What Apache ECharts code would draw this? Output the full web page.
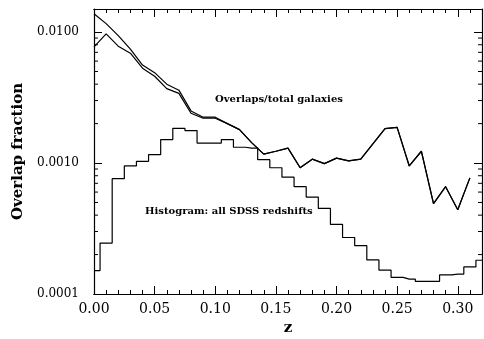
<!DOCTYPE html>
<html>
<head>
<meta charset="utf-8">
<script src="https://cdn.jsdelivr.net/npm/echarts@6/dist/echarts.min.js"></script>
<style>
  html, body { margin: 0; padding: 0; background: #fff; }
  #chart { width: 484px; height: 339px; }
</style>
</head>
<body>
<div id="chart"></div>
<script>
// overlap fraction, one point per 0.01 in z
const zLine = [0.00, 0.01, 0.02, 0.03, 0.04, 0.05, 0.06, 0.07, 0.08, 0.09, 0.10,
  0.11, 0.12, 0.13, 0.14, 0.15, 0.16, 0.17, 0.18, 0.19, 0.20, 0.21,
  0.22, 0.23, 0.24, 0.25, 0.26, 0.27, 0.28, 0.29, 0.30, 0.31]
const overlapUpper = [0.0138, 0.0116, 0.0094, 0.0074, 0.0056, 0.0049, 0.0040, 0.0036, 0.0025, 0.00224, 0.00224,
  0.0020, 0.0018, 0.00143, 0.00117, 0.00123, 0.00130, 0.00092, 0.00107, 0.00099, 0.00109, 0.00104,
  0.00107, 0.00140, 0.00183, 0.00187, 0.00095, 0.00123, 0.00049, 0.00066, 0.00044, 0.00077]
const overlapLower = [0.0077, 0.0097, 0.0078, 0.0069, 0.0053, 0.0046, 0.0037, 0.0034, 0.0024, 0.0022, 0.0022,
  0.0020, 0.0018, 0.00143, 0.00117, 0.00123, 0.00130, 0.00092, 0.00107, 0.00099, 0.00109, 0.00104,
  0.00107, 0.00140, 0.00183, 0.00187, 0.00095, 0.00123, 0.00049, 0.00066, 0.00044, 0.00077]

// histogram of all SDSS redshifts (scaled), bins centred on 0.00 .. 0.32
const zHist = [0.00, 0.01, 0.02, 0.03, 0.04, 0.05, 0.06, 0.07, 0.08, 0.09, 0.10,
  0.11, 0.12, 0.13, 0.14, 0.15, 0.16, 0.17, 0.18, 0.19, 0.20, 0.21,
  0.22, 0.23, 0.24, 0.25, 0.26, 0.27, 0.28, 0.29, 0.30, 0.31, 0.32]
const histFrac = [1.51e-4, 2.45e-4, 7.6e-4, 9.5e-4, 1.03e-3, 1.16e-3, 1.51e-3, 1.84e-3, 1.77e-3, 1.42e-3, 1.42e-3,
  1.51e-3, 1.32e-3, 1.30e-3, 1.06e-3, 9.2e-4, 7.8e-4, 6.6e-4, 5.5e-4, 4.5e-4, 3.4e-4, 2.7e-4,
  2.34e-4, 1.82e-4, 1.52e-4, 1.34e-4, 1.30e-4, 1.25e-4, 1.25e-4, 1.40e-4, 1.42e-4, 1.61e-4, 1.81e-4]

// minor ticks of the log axis (2..9 in each decade)
const yDecades = [0.0001, 0.001]
const minorYTicks = []
yDecades.forEach((d) => {
  for (let k = 2; k <= 9; k++) minorYTicks.push(k * d)
})

const serif = '"DejaVu Serif", "Liberation Serif", serif'
const black = '#000'

const chart = echarts.init(document.getElementById('chart'), null, { renderer: 'canvas' })

function xAxisDef(pos, interval, tickLen, labels) {
  return {
    type: 'value',
    position: pos,
    min: 0,
    max: 0.32,
    interval: interval,
    name: labels ? 'z' : '',
    nameLocation: 'middle',
    nameGap: 25,
    nameTextStyle: { fontFamily: serif, fontWeight: 'bold', fontSize: 15, color: black },
    axisLine: { show: true, onZero: false, lineStyle: { color: black, width: 1.2 } },
    axisTick: { show: true, inside: true, length: tickLen, lineStyle: { color: black, width: 1 } },
    axisLabel: {
      show: labels,
      margin: 8,
      showMaxLabel: false,
      fontFamily: serif,
      fontSize: 14,
      color: black,
      formatter: (v) => v.toFixed(2),
    },
    splitLine: { show: false },
  }
}

function yAxisDef(pos, labels) {
  return {
    type: 'log',
    logBase: 10,
    position: pos,
    min: 0.0001,
    max: 0.015,
    name: labels ? 'Overlap fraction' : '',
    nameLocation: 'middle',
    nameGap: 68,
    nameTextStyle: { fontFamily: serif, fontWeight: 'bold', fontSize: 15, color: black },
    axisLine: { show: true, onZero: false, lineStyle: { color: black, width: 1.2 } },
    axisTick: { show: true, inside: true, length: 8, lineStyle: { color: black, width: 1 } },
    axisLabel: {
      show: labels,
      margin: 15,
      showMaxLabel: false,
      fontFamily: serif,
      fontSize: 12,
      color: black,
      formatter: (v) => v.toFixed(4),
    },
    splitLine: { show: false },
  }
}

const option = {
  animation: false,
  backgroundColor: '#fff',
  grid: { left: 94, right: 2, top: 9, bottom: 45, containLabel: false, outerBoundsMode: 'none' },
  xAxis: [
    xAxisDef('bottom', 0.05, 8, true),
    xAxisDef('bottom', 0.01, 4, false),
    xAxisDef('top', 0.05, 8, false),
    xAxisDef('top', 0.01, 4, false),
  ],
  yAxis: [yAxisDef('left', true), yAxisDef('right', false)],
  graphic: [
    {
      type: 'text',
      left: 215,
      top: 94,
      style: { text: 'Overlaps/total galaxies', font: 'bold 10px ' + serif, fill: black },
    },
    {
      type: 'text',
      left: 145,
      top: 206,
      style: { text: 'Histogram: all SDSS redshifts', font: 'bold 10px ' + serif, fill: black },
    },
  ],
  series: [
    {
      type: 'line',
      data: zHist.map((z, i) => [z, histFrac[i]]),
      step: 'middle',
      showSymbol: false,
      lineStyle: { color: black, width: 1.2 },
    },
    {
      type: 'line',
      data: zLine.map((z, i) => [z, overlapUpper[i]]),
      showSymbol: false,
      lineStyle: { color: black, width: 1.2 },
    },
    {
      type: 'line',
      data: zLine.map((z, i) => [z, overlapLower[i]]),
      showSymbol: false,
      lineStyle: { color: black, width: 1.2 },
    },
    {
      // short minor ticks on left and right frame
      type: 'custom',
      silent: true,
      clip: false,
      data: minorYTicks.map((v) => [0, v]),
      renderItem: (params, api) => {
        const cs = params.coordSys
        const y = api.coord([0, api.value(1)])[1]
        const st = { stroke: black, lineWidth: 1 }
        return {
          type: 'group',
          children: [
            { type: 'line', shape: { x1: cs.x, y1: y, x2: cs.x + 4, y2: y }, style: st },
            { type: 'line', shape: { x1: cs.x + cs.width - 4, y1: y, x2: cs.x + cs.width, y2: y }, style: st },
          ],
        }
      },
    },
  ],
}

chart.setOption(option)
</script>
</body>
</html>
